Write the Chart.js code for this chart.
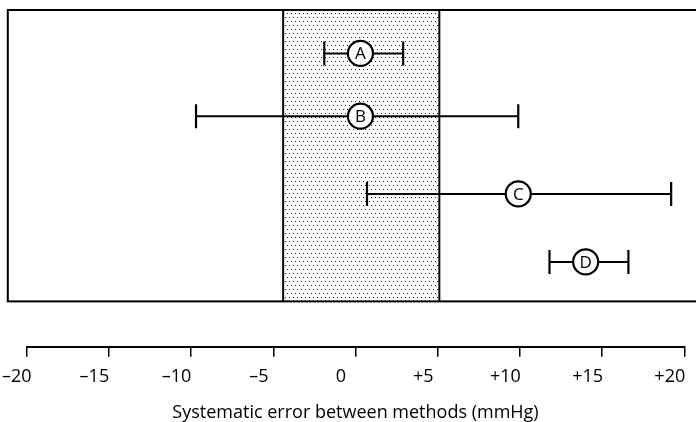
<!DOCTYPE html>
<html><head><meta charset="utf-8">
<script src="https://cdn.jsdelivr.net/npm/chart.js@4"></script>
<style>html,body{margin:0;padding:0;background:#fff;}</style>
</head><body>
<canvas id="c" width="696" height="422"></canvas>
<script>
// ---- data ----
const categories = ['A', 'B', 'C', 'D'];
const meanError = [0.3, 0.3, 9.9, 14.0];
const lowerLimit = [-1.9, -9.7, 0.7, 11.8];
const upperLimit = [2.9, 9.9, 19.2, 16.6];
const acceptableZone = [-4.4, 5.1];
const tickValues = [-20, -15, -10, -5, 0, 5, 10, 15, 20];
const tickLabels = ['\u2002–20', '–15', '–10', '–5', '0', '+5', '+10', '+15', '+20'];
const axisTitle = 'Systematic error between methods (mmHg)';

// ---- layout (not data) ----
const ROW_Y = [0.67, 1.64, 2.84, 3.89];
const FRAME_X = [-21.15, 21.2];
const FRAME_Y = [0, 4.5];
const FONT = '"Open Sans", Lato, sans-serif';

function makePattern(ctx) {
  const c = document.createElement('canvas');
  c.width = 4; c.height = 8;
  const g = c.getContext('2d');
  g.fillStyle = '#fff'; g.fillRect(0, 0, 4, 8);
  g.fillStyle = '#222';
  g.fillRect(1, 1, 1, 1);
  g.fillRect(3, 5, 1, 1);
  return ctx.createPattern(c, 'repeat');
}

const datasets = [];
categories.forEach((cat, i) => {
  datasets.push({
    label: cat + ' range',
    data: [{x: lowerLimit[i], y: ROW_Y[i]}, {x: upperLimit[i], y: ROW_Y[i]}],
    showLine: true,
    borderColor: '#000',
    borderWidth: 2,
    pointStyle: 'line',
    pointRotation: 90,
    pointRadius: 12,
    pointBorderWidth: 2.2,
    pointBorderColor: '#000',
    pointBackgroundColor: '#000',
    order: 2
  });
});
datasets.push({
  label: 'mean',
  data: meanError.map((m, i) => ({x: m, y: ROW_Y[i]})),
  pointRadius: 12.5,
  pointBackgroundColor: '#fff',
  pointBorderColor: '#000',
  pointBorderWidth: 2.2,
  order: 1
});

const framePlugin = {
  id: 'frame',
  beforeDatasetsDraw(chart) {
    const {ctx, scales: {x, y}} = chart;
    const y0 = y.getPixelForValue(FRAME_Y[0]);
    const y1 = y.getPixelForValue(FRAME_Y[1]);
    const s0 = x.getPixelForValue(acceptableZone[0]);
    const s1 = x.getPixelForValue(acceptableZone[1]);
    ctx.save();
    ctx.fillStyle = makePattern(ctx);
    ctx.fillRect(s0, y0, s1 - s0, y1 - y0);
    ctx.strokeStyle = '#000';
    ctx.lineWidth = 2;
    ctx.beginPath();
    ctx.moveTo(s0, y0); ctx.lineTo(s0, y1);
    ctx.moveTo(s1, y0); ctx.lineTo(s1, y1);
    ctx.stroke();
    const fx0 = x.getPixelForValue(FRAME_X[0]);
    const fx1 = x.getPixelForValue(FRAME_X[1]);
    ctx.strokeRect(fx0, y0, fx1 - fx0, y1 - y0);
    ctx.restore();
  },
  afterDatasetsDraw(chart) {
    const {ctx} = chart;
    const meta = chart.getDatasetMeta(chart.data.datasets.length - 1);
    ctx.save();
    ctx.fillStyle = '#000';
    ctx.font = '17px ' + FONT;
    ctx.textAlign = 'center';
    ctx.textBaseline = 'middle';
    meta.data.forEach((pt, i) => {
      ctx.fillText(categories[i], pt.x, pt.y + 1);
    });
    ctx.restore();
  }
};

new Chart(document.getElementById('c'), {
  type: 'scatter',
  data: {datasets},
  options: {
    responsive: false,
    animation: false,
    devicePixelRatio: 1,
    layout: {autoPadding: false, padding: {left: 26.7, right: 11.7, top: 10, bottom: 0}},
    plugins: {legend: {display: false}, tooltip: {enabled: false}},
    scales: {
      x: {
        type: 'linear',
        min: -20, max: 20,
        position: 'bottom',
        afterBuildTicks: (s) => { s.ticks = tickValues.map(v => ({value: v})); },
        afterFit: (s) => { s.paddingLeft = 0; s.paddingRight = 0; s.height = 75.3; },
        ticks: {
          callback: (v) => tickLabels[tickValues.indexOf(v)],
          labelOffset: -14.5,
          padding: 9,
          autoSkip: false,
          maxRotation: 0,
          color: '#000',
          font: {family: FONT, size: 18}
        },
        grid: {drawOnChartArea: false, tickLength: 10, color: '#000', lineWidth: 1.5},
        border: {color: '#000', width: 2},
        title: {display: true, text: axisTitle, color: '#000',
                font: {family: FONT, size: 18, lineHeight: 1}, padding: {top: 6, bottom: 0}}
      },
      y: {
        type: 'linear', display: false, reverse: true, min: 0, max: 5.2,
        afterFit: (s) => { s.paddingTop = 0; s.paddingBottom = 0; }
      }
    }
  },
  plugins: [framePlugin]
});
</script>
</body></html>
